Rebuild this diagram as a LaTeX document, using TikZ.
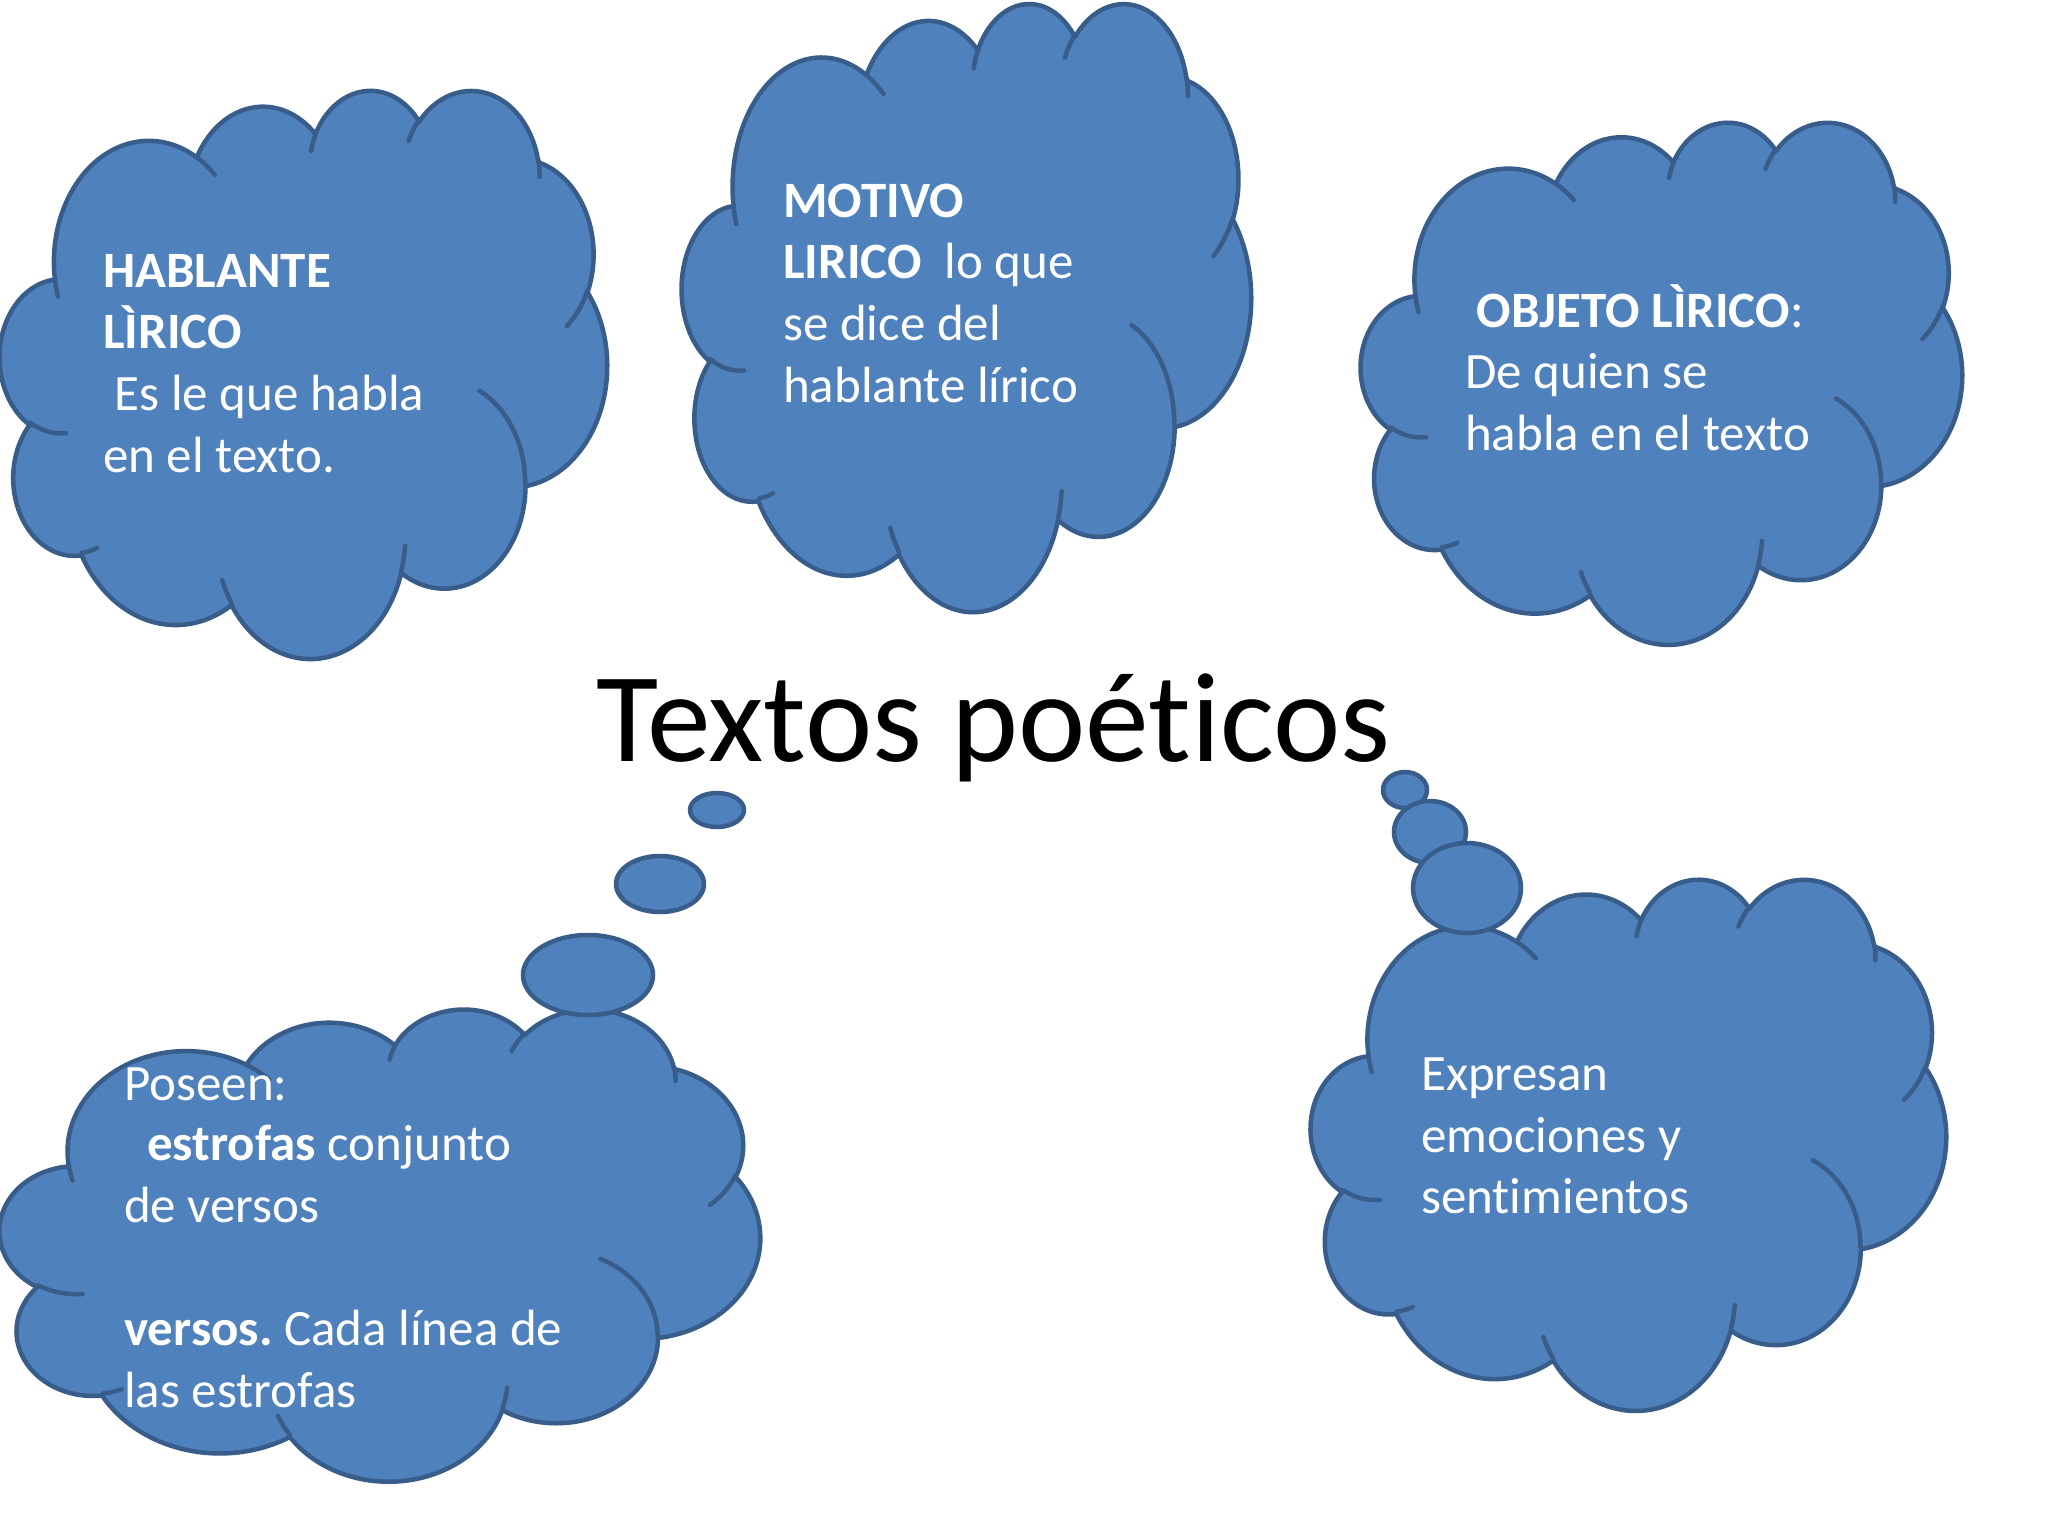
\documentclass[tikz,border=0pt]{standalone}
\usepackage{fontspec}
\setmainfont{Carlito}[Ligatures={NoCommon}]
\usetikzlibrary{shapes.geometric}
\definecolor{cfill}{HTML}{4F81BD}
\definecolor{cline}{HTML}{385D8A}
\frenchspacing

% cloud geometry (Office "cloud" preset, path units /1000, y down)
\newcommand\cloudsetup[4]{%
  \def\cL{#1}\def\cT{#2}%
  \pgfmathsetmacro\csx{#3/43.2}%
  \pgfmathsetmacro\csy{#4/43.2}%
}
\newcommand\cmove[2]{%
  \pgfmathsetmacro\cpx{\cL+#1*\csx}%
  \pgfmathsetmacro\cpy{0-(\cT+#2*\csy)}%
  \pgfpathmoveto{\pgfpoint{\cpx pt}{\cpy pt}}%
}
\newcommand\carc[4]{%
  \pgfmathsetmacro\cta{atan2(#1*sin(#3),#2*cos(#3))}%
  \pgfmathsetmacro\ctb{atan2(#1*sin((#3)+(#4)),#2*cos((#3)+(#4)))}%
  \pgfmathsetmacro\ctb{(\ctb)+360*((#4)>0)*((\ctb)<(\cta))-360*((#4)<0)*((\ctb)>(\cta))}%
  \pgfmathsetmacro\cna{0-(\cta)}%
  \pgfmathsetmacro\cnb{0-(\ctb)}%
  \pgfmathsetmacro\crx{#1*\csx}%
  \pgfmathsetmacro\cry{#2*\csy}%
  \pgfpatharc{\cna}{\cnb}{\crx pt and \cry pt}%
}
\newcommand\cloudbody[4]{%
  \begin{pgfscope}%
  \cloudsetup{#1}{#2}{#3}{#4}%
  \cmove{3.900}{14.370}%
  \carc{6.753}{9.190}{-190.487483}{123.780533}%
  \carc{5.333}{7.267}{-144.102383}{89.945233}%
  \carc{4.365}{5.945}{-145.807917}{99.723017}%
  \carc{4.857}{6.595}{-130.986067}{117.241733}%
  \carc{5.333}{7.273}{-78.708883}{109.026917}%
  \carc{6.775}{9.220}{-46.26725}{130.269}%
  \carc{5.785}{7.867}{0.625017}{114.033333}%
  \carc{6.752}{9.215}{22.4516}{115.17255}%
  \carc{7.720}{10.543}{66.242633}{75.711017}%
  \carc{4.360}{5.918}{-274.942083}{146.735567}%
  \carc{4.345}{5.945}{-246.8285}{152.51885}%
  \pgfpathclose
  \pgfsetfillcolor{cfill}\pgfsetstrokecolor{cline}%
  \pgfsetlinewidth{4.5pt}\pgfsetroundjoin
  \pgfusepath{fill,stroke}%
  \end{pgfscope}}
\newcommand\cloudlines[4]{%
  \begin{pgfscope}%
  \cloudsetup{#1}{#2}{#3}{#4}%
  \cmove{4.693}{26.177}\carc{4.345}{5.945}{86.742}{26.4295}%
  \cmove{6.928}{34.899}\carc{4.360}{5.918}{73.610467}{11.447467}%
  \cmove{16.478}{39.090}\carc{6.752}{9.215}{137.62415}{14.0811}%
  \cmove{28.827}{34.751}\carc{6.752}{9.215}{6.453267}{15.99835}%
  \cmove{34.129}{22.954}\carc{5.785}{7.867}{-70.29235}{70.31465}%
  \cmove{41.798}{15.354}\carc{5.333}{7.273}{30.318033}{27.7515}%
  \cmove{38.324}{5.426}\carc{4.857}{6.595}{-13.744333}{14.8589}%
  \cmove{29.078}{3.952}\carc{4.857}{6.595}{-149.18145}{18.195367}%
  \cmove{22.141}{4.720}\carc{4.365}{5.945}{-163.494267}{17.68635}%
  \cmove{14.000}{5.192}\carc{6.753}{9.190}{-66.70695}{12.31935}%
  \cmove{4.127}{15.789}\carc{6.753}{9.190}{157.65}{11.86}%
  \pgfsetstrokecolor{cline}%
  \pgfsetlinewidth{4.5pt}\pgfsetroundcap
  \pgfusepath{stroke}%
  \end{pgfscope}}

\begin{document}
\begin{tikzpicture}[x=1pt,y=1pt,
  txt/.style={anchor=base west, inner sep=0pt, text=white,
    font=\fontsize{51}{61.4}\selectfont},
  bub/.style={ellipse, draw=cline, fill=cfill, line width=4.5pt, inner sep=0pt},
  titletext/.style={anchor=base west, inner sep=0pt, text=black,
    font=\fontsize{127.5}{153}\selectfont}]
\fill[white] (0,0) rectangle (2048,-1536);
\useasboundingbox (0,0) rectangle (2048,-1536);

% clouds
\cloudbody{0}{89}{607}{568}
\cloudlines{0}{89}{607}{568}
\cloudbody{682}{2}{569}{608}
\cloudlines{682}{2}{569}{608}
\cloudbody{1361}{121}{601}{522}
\cloudlines{1361}{121}{601}{522}

\cloudbody{0}{1008}{760}{472}
\node[bub, minimum width=54, minimum height=34] (b4a) at (717,-810) {};
\node[bub, minimum width=88, minimum height=56] (b4b) at (660,-884) {};
\node[bub, minimum width=130, minimum height=80] (b4c) at (588,-975) {};
\cloudlines{0}{1008}{760}{472}

\cloudbody{1311}{878}{635}{531}
\node[bub, minimum width=44, minimum height=36] (b5a) at (1405,-790) {};
\node[bub, minimum width=72, minimum height=62] (b5b) at (1430,-832) {};
\node[bub, minimum width=108, minimum height=90] (b5c) at (1467,-888) {};
\cloudlines{1311}{878}{635}{531}

% texts
\node[txt] (h1) at (103,-287) {\textbf{HABLANTE}};
\node[txt] (h2) at (103,-348) {\textbf{LÌRICO}};
\node[txt] (h3) at (103,-410) {\ Es le que habla};
\node[txt] (h4) at (103,-472) {en el texto.};

\node[txt] (m1) at (783,-217) {\textbf{MOTIVO}};
\node[txt] (m2) at (783,-278) {\textbf{LIRICO}\ \ lo que};
\node[txt] (m3) at (783,-340) {se dice del};
\node[txt] (m4) at (783,-402) {hablante lírico};

\node[txt] (o1) at (1465,-327) {\ \textbf{OBJETO LÌRICO}:};
\node[txt] (o2) at (1465,-388) {De quien se};
\node[txt] (o3) at (1465,-450) {habla en el texto};

\node[txt] (p1) at (124,-1100) {Poseen:};
\node[txt] (p2) at (124,-1160) {\ \ \textbf{estrofas} conjunto};
\node[txt] (p3) at (124,-1222) {de versos};
\node[txt] (p4) at (124,-1345) {\textbf{versos.} Cada línea de};
\node[txt] (p5) at (124,-1407) {las estrofas};

\node[txt] (e1) at (1421,-1090) {Expresan};
\node[txt] (e2) at (1421,-1152) {emociones y};
\node[txt] (e3) at (1421,-1213) {sentimientos};

\node[titletext] (title) at (596,-761) {Textos poéticos};
\end{tikzpicture}
\end{document}
